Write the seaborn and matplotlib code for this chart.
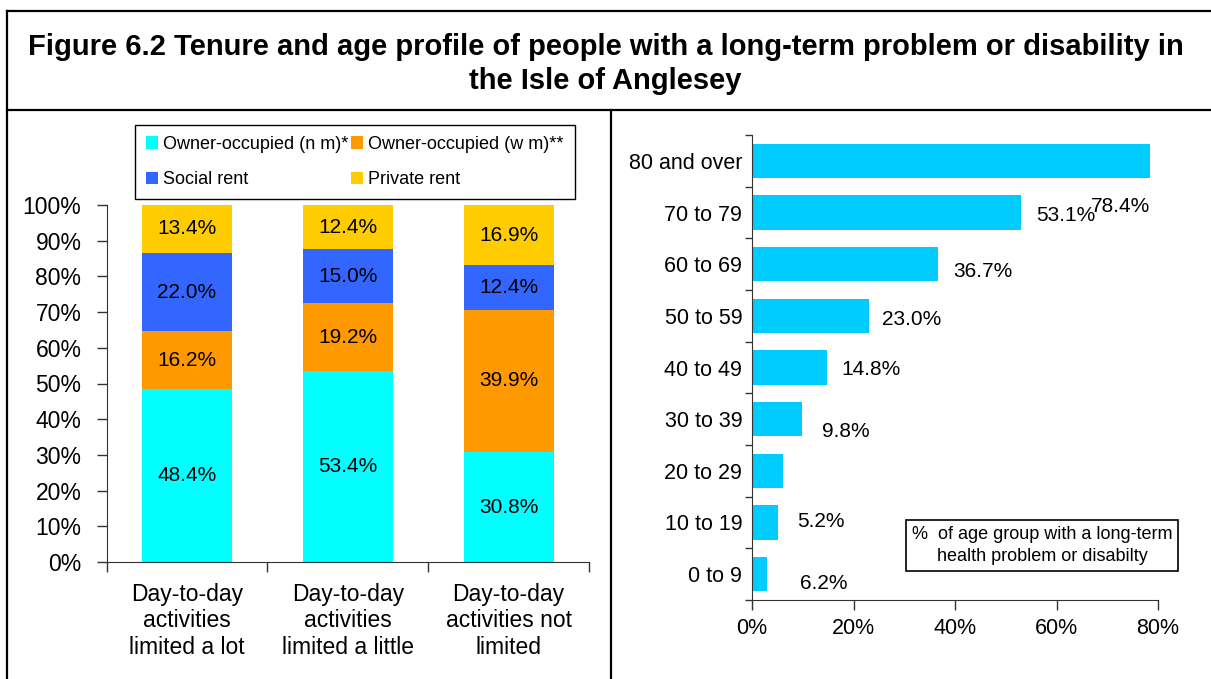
import seaborn as sns
import matplotlib.pyplot as plt
from matplotlib.lines import Line2D
from matplotlib.patches import Patch
from matplotlib.ticker import FuncFormatter

# Left panel: tenure by activity limitation (%)
activity = ['Day-to-day\nactivities\nlimited a lot',
            'Day-to-day\nactivities\nlimited a little',
            'Day-to-day\nactivities not\nlimited']
tenure = ['Owner-occupied (n m)*', 'Owner-occupied (w m)**', 'Social rent', 'Private rent']
owner_nm = [48.4, 53.4, 30.8]
owner_wm = [16.2, 19.2, 39.9]
social_rent = [22.0, 15.0, 12.4]
private_rent = [13.4, 12.4, 16.9]
tenure_colors = ['#00FFFF', '#FF9900', '#3366FF', '#FFCC00']

# Right panel: % of age group with long-term health problem or disability
age_groups = ['80 and over', '70 to 79', '60 to 69', '50 to 59', '40 to 49',
              '30 to 39', '20 to 29', '10 to 19', '0 to 9']
age_pct = [78.4, 53.1, 36.7, 23.0, 14.8, 9.8, 6.2, 5.2, 2.9]

plt.rcParams['font.family'] = ['Liberation Sans', 'DejaVu Sans']
W, H = 1211, 679

fig = plt.figure(figsize=(W / 100, H / 100), dpi=100)


def fx(px):
    return px / W


def fy(py):
    return 1 - py / H


# frame lines of the figure
line_kw = dict(color='black', lw=1.6, transform=fig.transFigure)
fig.add_artist(Line2D([fx(7), 1], [fy(11), fy(11)], **line_kw))
fig.add_artist(Line2D([fx(7), fx(7)], [fy(11), 0], **line_kw))
fig.add_artist(Line2D([fx(7), 1], [fy(110), fy(110)], **line_kw))
fig.add_artist(Line2D([fx(611), fx(611)], [fy(110), 0], **line_kw))

fig.text(0.5, fy(64), 'Figure 6.2 Tenure and age profile of people with a long-term problem or disability in\n'
         'the Isle of Anglesey', ha='center', va='center', fontsize=21, fontweight='bold',
         linespacing=1.25)

# ---- left: stacked 100% bars ----
ax1 = fig.add_axes([fx(106.5), fy(562), fx(589 - 106.5), (562 - 205) / H])
series = [owner_nm, owner_wm, social_rent, private_rent]
cum = []
run = [0.0] * len(activity)
for s in series:
    run = [r + v for r, v in zip(run, s)]
    cum.append(run)
# draw from the tallest cumulative down so each layer shows
for i in range(len(series) - 1, -1, -1):
    sns.barplot(x=activity, y=cum[i], color=tenure_colors[i], saturation=1,
                width=0.56, linewidth=0, ax=ax1)
for i, s in enumerate(series):
    for j, v in enumerate(s):
        ax1.text(j, cum[i][j] - v / 2, f'{v:.1f}%', ha='center', va='center', fontsize=15)

ax1.set_ylim(0, 100)
ax1.set_xlim(-0.5, 2.5)
ax1.set_yticks(range(0, 101, 10))
ax1.yaxis.set_major_formatter(FuncFormatter(lambda v, p: f'{v:.0f}%'))
ax1.set_xticks([-0.5, 0.5, 1.5, 2.5], minor=True)
ax1.tick_params(axis='x', which='major', length=0, pad=15, labelsize=16.5)
ax1.tick_params(axis='x', which='minor', length=7, width=1, color='#333333')
ax1.tick_params(axis='y', length=7, width=1, pad=11, labelsize=16.5, color='#333333')
for side in ['top', 'right']:
    ax1.spines[side].set_visible(False)
for side in ['left', 'bottom']:
    ax1.spines[side].set_color('#333333')
ax1.set_xlabel('')
ax1.set_ylabel('')

# legend fills column-wise, so order to read row by row
order = [0, 2, 1, 3]
handles = [Patch(facecolor=tenure_colors[k], edgecolor='none') for k in order]
labels = [tenure[k] for k in order]
leg = fig.legend(handles, labels, ncol=2, loc='upper left',
                 bbox_to_anchor=(fx(135), fy(125)), borderaxespad=0,
                 fancybox=False, edgecolor='black', framealpha=1,
                 prop={'size': 13}, handlelength=0.65, handleheight=0.65,
                 handletextpad=0.3, columnspacing=0.15, labelspacing=1.0, borderpad=0.6)
leg.get_frame().set_linewidth(1.0)

# ---- right: horizontal bars ----
ax2 = fig.add_axes([fx(752), fy(600), fx(1158 - 752), (600 - 135) / H])
sns.barplot(x=age_pct, y=age_groups, orient='h', color='#00CCFF', saturation=1,
            width=0.66, linewidth=0, ax=ax2)
ax2.set_xlim(0, 80)
ax2.set_ylim(len(age_groups) - 0.5, -0.5)
ax2.set_xticks(range(0, 81, 20))
ax2.xaxis.set_major_formatter(FuncFormatter(lambda v, p: f'{v:.0f}%'))
ax2.set_yticks([i - 0.5 for i in range(len(age_groups) + 1)], minor=True)
ax2.tick_params(axis='y', which='major', length=0, pad=7, labelsize=15.5)
ax2.tick_params(axis='y', which='minor', length=5, width=1, color='#333333')
ax2.tick_params(axis='x', length=7, width=1, pad=6, labelsize=15.5, color='#333333')
for side in ['top', 'right']:
    ax2.spines[side].set_visible(False)
for side in ['left', 'bottom']:
    ax2.spines[side].set_color('#333333')
ax2.set_xlabel('')
ax2.set_ylabel('')

# data labels (placed as in the original, some of them displaced)
label_offsets = {0: (0, -46, 'right', 0), 1: (15, -3, 'left', 1), 2: (15, -7, 'left', 2),
                 3: (13, -4, 'left', 3), 4: (14, -2, 'left', 4), 5: (20, -12, 'left', 5),
                 6: (17, -113, 'left', 6), 7: (19, 1, 'left', 7)}
for i, (dx, dy, ha, row) in label_offsets.items():
    ax2.annotate(f'{age_pct[i]:.1f}%', xy=(age_pct[i], row), xytext=(dx, dy),
                 textcoords='offset pixels', ha=ha, va='center', fontsize=15)

fig.text(fx(1042), fy(545.5), '%  of age group with a long-term\nhealth problem or disabilty',
         ha='center', va='center', fontsize=13, linespacing=1.45,
         bbox=dict(boxstyle='square,pad=0.3', facecolor='white', edgecolor='black', lw=1.2))

fig.savefig('out.png', dpi=100)
